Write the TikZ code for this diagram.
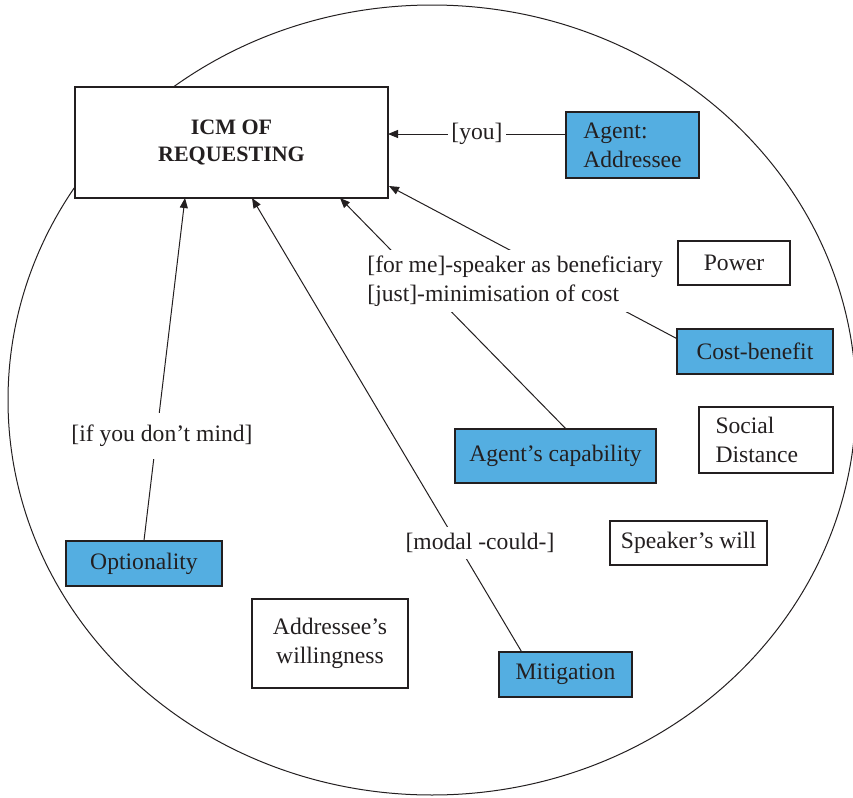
\documentclass[tikz,border=0pt]{standalone}
\usepackage{fontspec}
\setmainfont{Liberation Serif}
\usetikzlibrary{arrows.meta,calc}
\definecolor{boxblue}{RGB}{84,174,225}
\definecolor{ink}{RGB}{35,31,32}
\begin{document}
\begin{tikzpicture}[x=0.5pt,y=-0.5pt,
  every node/.style={font=\fontsize{11.8}{14.5}\selectfont, text=ink},
  box/.style={draw=ink, line width=0.6pt, inner sep=0pt, align=center},
  bluebox/.style={box, fill=boxblue},
  wbox/.style={box, fill=white},
  tag/.style={fill=white, inner xsep=1.5pt, inner ysep=3pt},
  link/.style={draw=ink, line width=0.5pt},
  arr/.style={link, -{Triangle[length=5pt,width=4pt]}}]

\useasboundingbox (0,0) rectangle (853,798);

% enclosing ellipse
\draw[link] (432,400) ellipse [x radius=424, y radius=395];

% concept boxes
\node[wbox, minimum width=156.5pt, minimum height=55.5pt,
      font=\fontsize{11}{13.5}\selectfont\bfseries] (icm) at (231.5,142.5) {ICM OF\\REQUESTING};
\node[bluebox, minimum width=66.5pt, minimum height=33pt, align=left] (agent) at (632.5,145) {Agent:\\Addressee};
\node[wbox, minimum width=56pt, minimum height=22pt] (power) at (734,263) {Power};
\node[bluebox, minimum width=78pt, minimum height=22.5pt] (cb) at (755,351.5) {Cost-benefit};
\node[wbox, minimum width=67pt, minimum height=33pt, text width=50.5pt, align=left] (social) at (766,440) {Social\\Distance};
\node[bluebox, minimum width=100.5pt, minimum height=27pt] (cap) at (555.5,456) {Agent’s capability};
\node[bluebox, minimum width=78pt, minimum height=22.5pt] (opt) at (144,563.5) {Optionality};
\node[wbox, minimum width=78pt, minimum height=44.5pt] (will) at (330,643.5) {Addressee’s\\willingness};
\node[wbox, minimum width=78.5pt, minimum height=22pt] (spk) at (688.5,543) {Speaker’s will};
\node[bluebox, minimum width=66.5pt, minimum height=22.5pt] (mit) at (565.5,674.5) {Mitigation};

% arrow targets on the ICM box
\coordinate (tYou) at (388,134);
\coordinate (tCost) at (389,186);
\coordinate (tCap) at (340,198);
\coordinate (tMit) at (252,198);
\coordinate (tOpt) at (185,198);

% connectors
\draw[arr] (agent.west |- tYou) -- (tYou);
\draw[arr] ($(cb.north west)+(0,10)$) -- (tCost);
\draw[arr] ($(cap.north)+(10,0)$) -- (tCap);
\draw[arr] ($(mit.north west)+(23,0)$) -- (tMit);
\draw[arr] (opt.north) -- (tOpt);

% connector labels
\node[tag] (lyou) at (477,134) {[you]};
\node[tag, anchor=west, align=left] (lcost) at (364,281) {[for me]-speaker as beneficiary\\{}[just]-minimisation of cost};
\node[tag, inner ysep=6pt] (lmind) at (162,436) {[if you don’t mind]};
\node[tag] (lmodal) at (480,543) {[modal -could-]};
\end{tikzpicture}
\end{document}
